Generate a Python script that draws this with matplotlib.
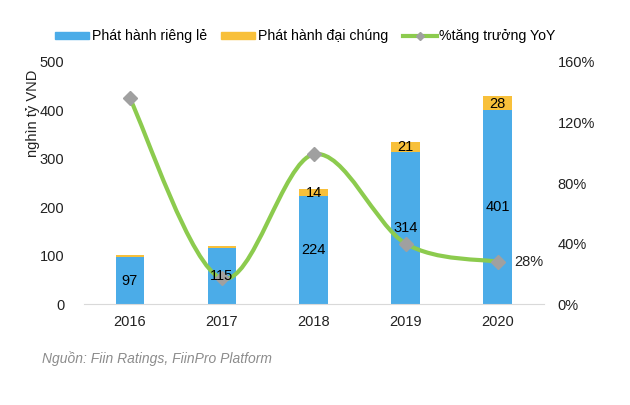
import numpy as np
import matplotlib
matplotlib.use("Agg")
from matplotlib import pyplot as plt
from matplotlib.path import Path
from matplotlib.patches import PathPatch, Patch
from matplotlib.lines import Line2D

plt.rcParams['font.family'] = ['Liberation Sans', 'DejaVu Sans']

# Data
years = ["2016", "2017", "2018", "2019", "2020"]
private = [97, 115, 224, 314, 401]
public = [4, 5, 14, 21, 28]
yoy = [136, 17, 99, 40, 28]
public_labels = ["", "", "14", "21", "28"]

c_blue = "#4BACE8"
c_yellow = "#F8C03A"
c_green = "#8CCB4E"
c_marker = "#A0A0A0"

fig = plt.figure(figsize=(6.3, 4.05), dpi=100)
ax = fig.add_axes([0.133, 0.249, 0.730, 0.598])
ax2 = ax.twinx()

x = np.arange(len(years))
w = 0.31
ax.bar(x, private, w, color=c_blue, zorder=2)
ax.bar(x, public, w, bottom=private, color=c_yellow, zorder=2)

# labels go on ax2 (top axes) so they sit above the line
for i in range(len(years)):
    ax2.text(x[i], private[i] / 2, str(private[i]), ha="center", va="center",
             fontsize=10.5, color="black", zorder=6, transform=ax.transData)
    if public_labels[i]:
        ax2.text(x[i], private[i] + public[i] / 2 - 1, public_labels[i],
                 ha="center", va="center", fontsize=10.5, color="black",
                 zorder=6, transform=ax.transData)

ax.set_xlim(-0.5, 4.5)
ax.set_ylim(0, 500)
ax.set_yticks(range(0, 501, 100))
ax.set_xticks(x)
ax.set_xticklabels(years)
ax2.set_ylim(0, 160)
ax2.set_yticks(range(0, 161, 40))
ax2.set_yticklabels(["%d%%" % v for v in range(0, 161, 40)])

for a in (ax, ax2):
    for s in a.spines.values():
        s.set_visible(False)
    a.tick_params(length=0, labelsize=10.5, colors="#222222")
ax.spines["bottom"].set_visible(True)
ax.spines["bottom"].set_color("#D9D9D9")
ax.tick_params(axis="x", pad=8)
ax.tick_params(axis="y", pad=14)
ax2.tick_params(axis="y", pad=10)

# smoothed line (cubic bezier through the points, Excel-like)
pts = np.column_stack([x, yoy]).astype(float)
n = len(pts)
verts = [pts[0]]
codes = [Path.MOVETO]
for i in range(n - 1):
    p0 = pts[i - 1] if i > 0 else pts[i]
    p1 = pts[i]
    p2 = pts[i + 1]
    p3 = pts[i + 2] if i + 2 < n else pts[i + 1]
    c1 = p1 + (p2 - p0) / 6
    c2 = p2 - (p3 - p1) / 6
    verts += [c1, c2, p2]
    codes += [Path.CURVE4] * 3
ax2.add_patch(PathPatch(Path(verts, codes), fill=False, edgecolor=c_green,
                        lw=3, zorder=3))
ax2.plot(x, yoy, ls="none", marker="D", ms=7, mfc=c_marker, mec=c_marker, zorder=4)
ax2.text(x[-1] + 0.18, yoy[-1], "%d%%" % yoy[-1], ha="left", va="center",
         fontsize=10.5, color="#222222")
ax2.patch.set_visible(False)

fig.text(0.052, 0.72, "nghìn tỷ VND", rotation=90, ha="center", va="center",
         fontsize=10.5, color="#222222")

handles = [Patch(color=c_blue), Patch(color=c_yellow),
           Line2D([], [], color=c_green, lw=3, marker="D", ms=4,
                  mfc=c_marker, mec=c_marker)]
fig.legend(handles, ["Phát hành riêng lẻ", "Phát hành đại chúng", "%tăng trưởng YoY"],
           loc="center", bbox_to_anchor=(0.485, 0.91), ncol=3, frameon=False,
           fontsize=10.2, handlelength=2.4, handleheight=0.4, handletextpad=0.2,
           columnspacing=1.0)

fig.text(0.067, 0.103, "Nguồn: Fiin Ratings, FiinPro Platform", style="italic",
         fontsize=10, color="#8C8C8C")

fig.savefig("out.png", dpi=100, facecolor="white")
